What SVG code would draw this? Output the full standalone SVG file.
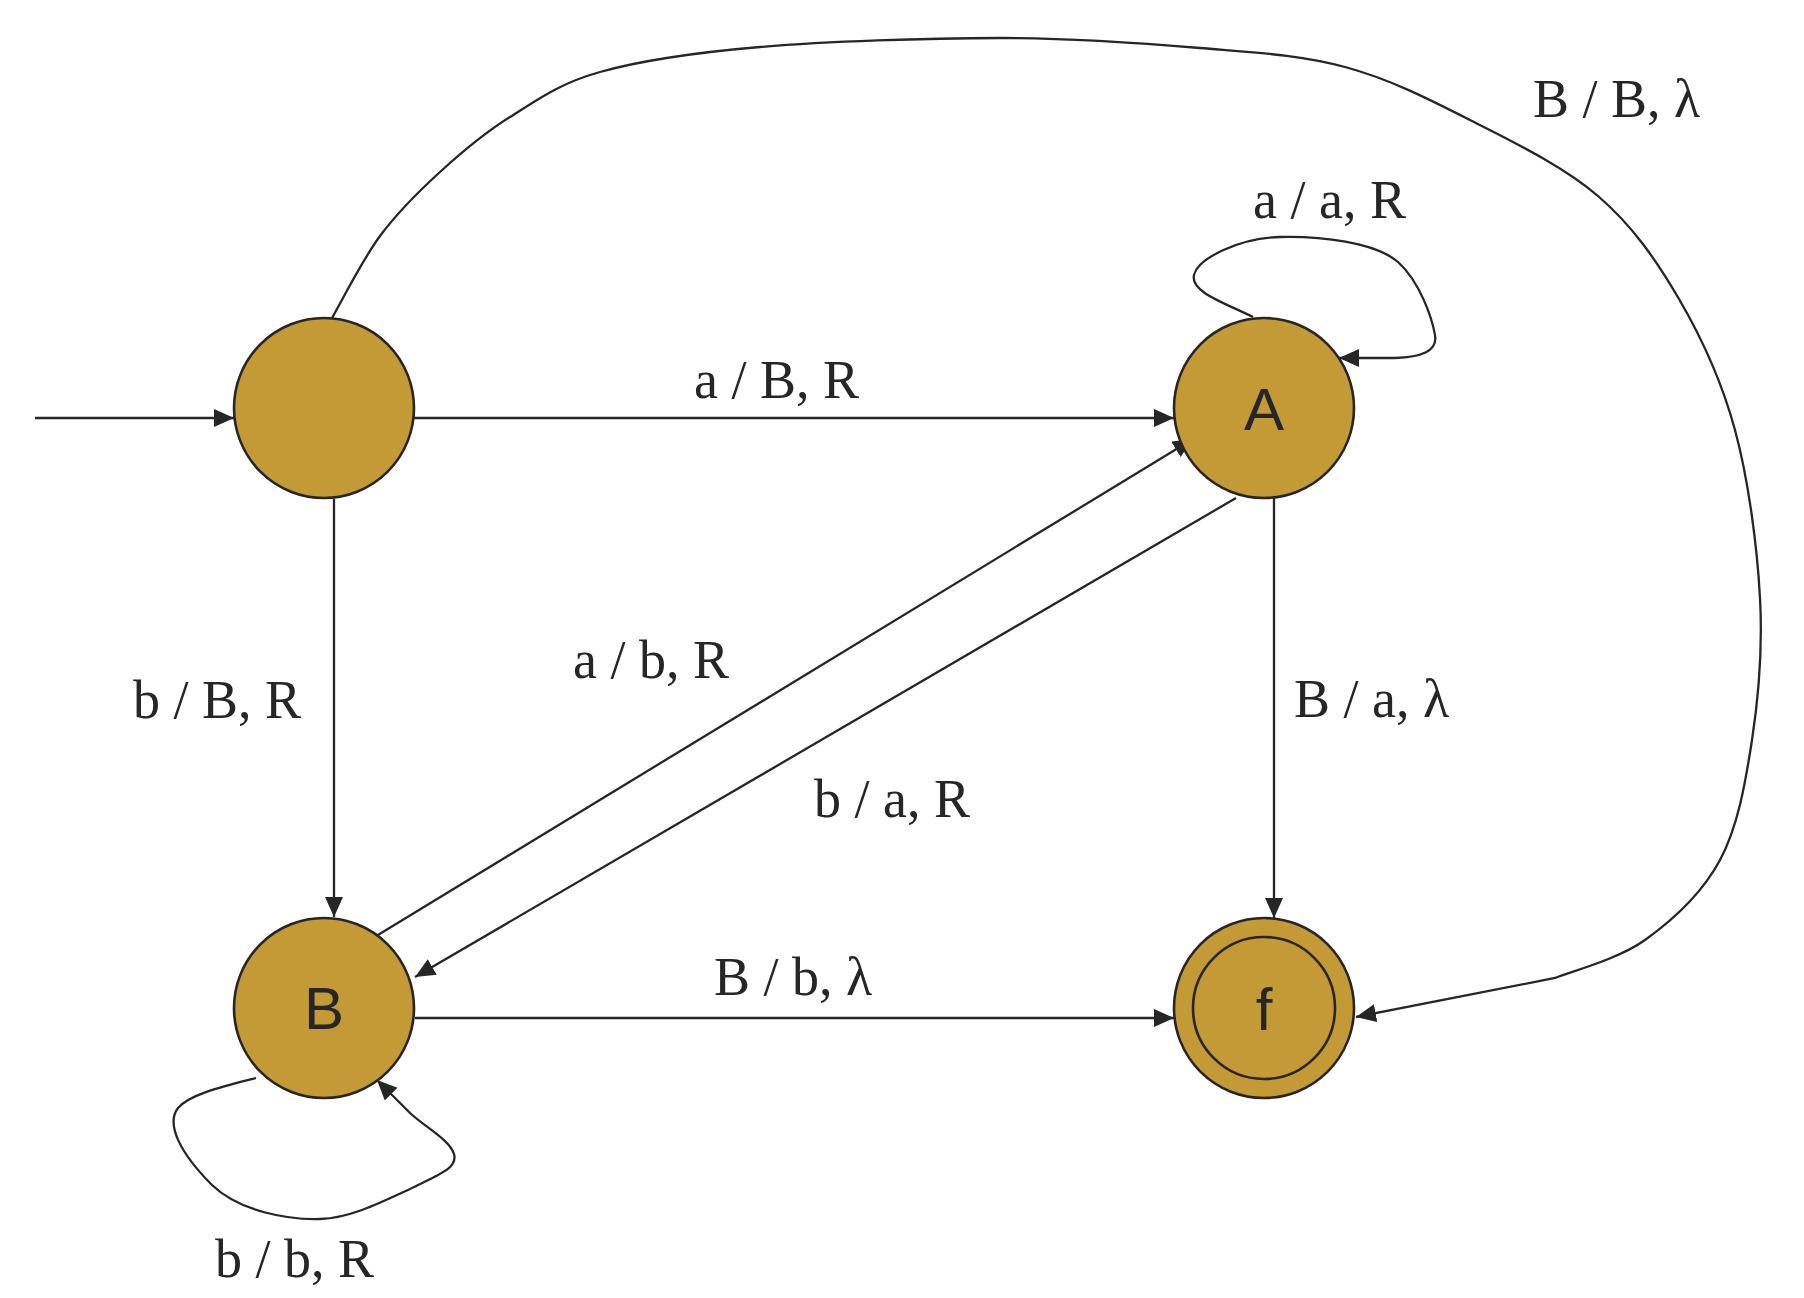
<svg xmlns="http://www.w3.org/2000/svg" width="1804" height="1298" viewBox="0 0 1804 1298">
<style>
.node{fill:#C39A35;stroke:#262626;stroke-width:2.6}
.inner{fill:none;stroke:#262626;stroke-width:2.6}
.edge{fill:none;stroke:#262626;stroke-width:2.3}
.lbl{font-family:"Liberation Serif","Times New Roman",serif;font-size:54px;fill:#262626}
.nlbl{font-family:"Liberation Sans",Arial,sans-serif;font-size:60px;fill:#262626;text-anchor:middle}
</style>
<defs>
<marker id="arr" markerUnits="userSpaceOnUse" markerWidth="21" markerHeight="19" refX="20" refY="9" orient="auto" viewBox="0 0 21 19">
<path d="M0,0 L20,9 L0,18 z" fill="#262626"/>
</marker>
</defs>
<rect width="1804" height="1298" fill="#ffffff"/>
<g id="connectors">
<path class="edge" d="M35,418 L234,418" marker-end="url(#arr)"/>
<path class="edge" d="M414,418 L1174,418" marker-end="url(#arr)"/>
<path class="edge" d="M334,499 L334,917" marker-end="url(#arr)"/>
<path class="edge" d="M1274,498 L1274,918" marker-end="url(#arr)"/>
<path class="edge" d="M415,1018 L1174,1018" marker-end="url(#arr)"/>
<path class="edge" d="M373,938 L1193,439" marker-end="url(#arr)"/>
<path class="edge" d="M1236,498 L415,977" marker-end="url(#arr)"/>
<path class="edge" d="M1253,317 C1225,303 1190,292 1194,275 C1198,258 1240,238 1280,237 C1320,236 1375,242 1398,262 C1420,282 1432,318 1435,335 C1438,352 1420,357 1395,358 L1339,358" marker-end="url(#arr)"/>
<path class="edge" d="M256,1078 C225,1086 190,1094 178,1108 C165,1125 182,1155 212,1185 C240,1212 290,1220 320,1219 C350,1218 380,1203 410,1189 C440,1174 458,1168 454,1154 C450,1140 425,1127 410,1113 L377,1080" marker-end="url(#arr)"/>
<path class="edge" d="M332,318 C340,304.3 362,260.3 380,236 C398,211.7 418.3,191.8 440,172 C461.7,152.2 483.3,133.7 510,117 C536.7,100.3 558.3,83.7 600,72 C641.7,60.3 693.3,52.7 760,47 C826.7,41.3 926.7,38.2 1000,38 C1073.3,37.8 1142.5,43.2 1200,48 C1257.5,52.8 1299.7,54.8 1345,67 C1390.3,79.2 1429.8,99.5 1472,121 C1514.2,142.5 1563.5,166.3 1598,196 C1632.5,225.7 1656.2,260 1679,299 C1701.8,338 1721.5,380.2 1735,430 C1748.5,479.8 1757.2,546.3 1760,598 C1762.8,649.7 1758.7,696.3 1752,740 C1745.3,783.7 1737.8,826.7 1720,860 C1702.2,893.3 1672.5,920.3 1645,940 C1617.5,959.7 1570,971.7 1555,978 L1356,1017" marker-end="url(#arr)"/>
</g>
<g id="labels">
<text class="lbl" x="694" y="398">a / B, R</text>
<text class="lbl" x="1253" y="218">a / a, R</text>
<text class="lbl" x="1533" y="117">B / B, λ</text>
<text class="lbl" x="133" y="718">b / B, R</text>
<text class="lbl" x="573" y="678">a / b, R</text>
<text class="lbl" x="814" y="817">b / a, R</text>
<text class="lbl" x="1294" y="717">B / a, λ</text>
<text class="lbl" x="714" y="995">B / b, λ</text>
<text class="lbl" x="215" y="1277">b / b, R</text>
</g>
<g id="start">
<circle class="node" cx="324" cy="408" r="90"/>
</g>
<g id="A">
<circle class="node" cx="1264" cy="408" r="90"/>
<text class="nlbl" x="1264" y="430">A</text>
</g>
<g id="B">
<circle class="node" cx="324" cy="1008" r="90"/>
<text class="nlbl" x="324" y="1029">B</text>
</g>
<g id="f">
<circle class="node" cx="1264" cy="1008" r="90"/>
<circle class="inner" cx="1264" cy="1008" r="71"/>
<text class="nlbl" x="1264" y="1030">f</text>
</g>
</svg>
